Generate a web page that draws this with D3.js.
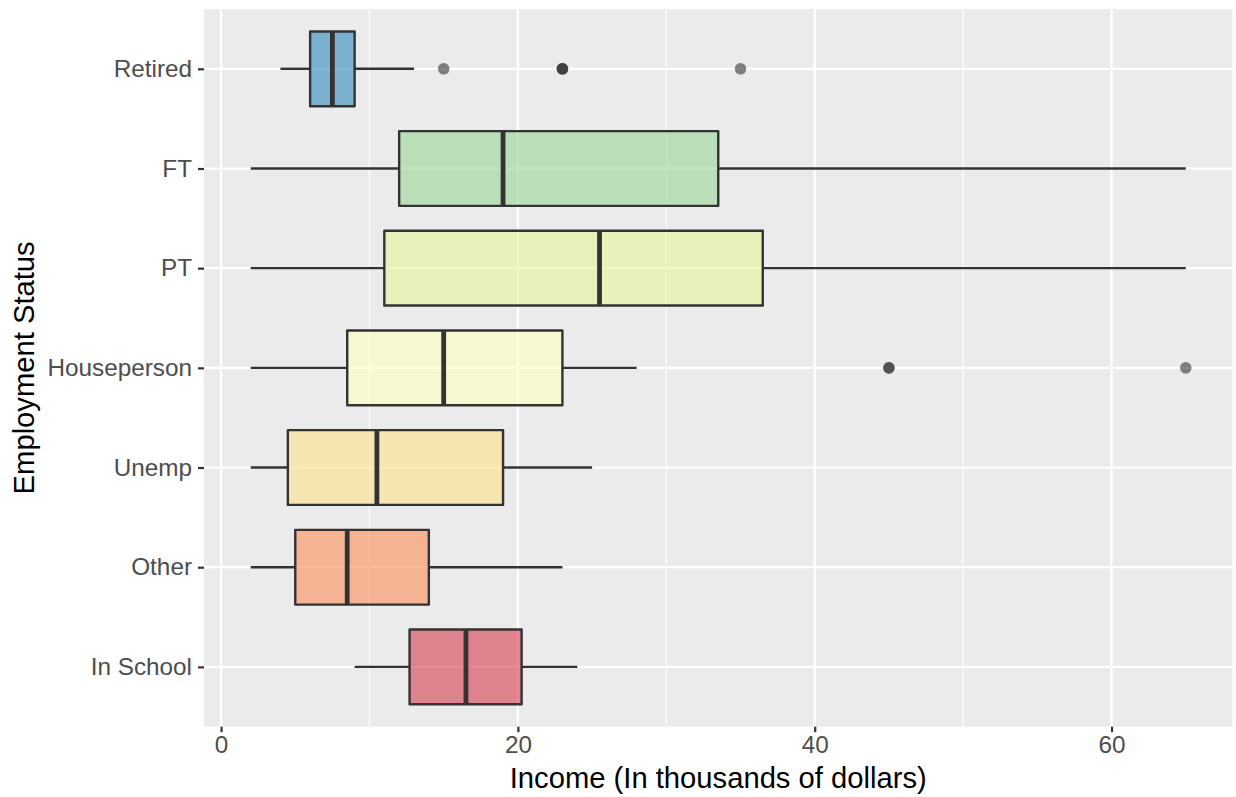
<!DOCTYPE html>
<html>
<head>
<meta charset="utf-8">
<script src="https://cdn.jsdelivr.net/npm/d3@7"></script>
<style>
  html, body { margin: 0; padding: 0; background: #ffffff; }
  svg { display: block; font-family: "Liberation Sans", Arial, Helvetica, sans-serif; }
</style>
</head>
<body>
<svg id="chart" width="1236" height="797"></svg>
<script>
// Employment groups, listed top to bottom
const categories = ["Retired", "FT", "PT", "Houseperson", "Unemp", "Other", "In School"];

// Five-number summaries (thousands of dollars)
const whiskerLow  = [4,   2,    2,    2,    2,    2,    9];
const quartile1   = [6,   12,   11,   8.5,  4.5,  5,    12.7];
const medians     = [7.5, 19,   25.5, 15,   10.5, 8.5,  16.5];
const quartile3   = [9,   33.5, 36.5, 23,   19,   14,   20.25];
const whiskerHigh = [13,  65,   65,   28,   25,   23,   24];

// Outlying incomes per group (repeated values overlap)
const outliers = [
  [15, 23, 23, 23, 35],
  [],
  [],
  [45, 45, 65],
  [],
  [],
  []
];

// Spectral fills
const fills = ["#3288BD", "#99D594", "#E6F598", "#FFFFBF", "#FEE08B", "#FC8D59", "#D53E4F"];

const xTicks = [0, 20, 40, 60];
const xMinor = [10, 30, 50];

const svg = d3.select("#chart");
const panel = { left: 204, right: 1232.5, top: 9, bottom: 726.7 };

const dataMin = d3.min(whiskerLow), dataMax = d3.max(whiskerHigh);
const pad = (dataMax - dataMin) * 0.05;
const x = d3.scaleLinear()
  .domain([dataMin - pad, dataMax + pad])
  .range([panel.left, panel.right]);

const y = d3.scalePoint()
  .domain(categories)
  .range([panel.top, panel.bottom])
  .padding(0.6);

const step = y.step();
const boxH = step * 0.75;

// Panel background
svg.append("rect")
  .attr("x", panel.left).attr("y", panel.top)
  .attr("width", panel.right - panel.left)
  .attr("height", panel.bottom - panel.top)
  .attr("fill", "#EBEBEB");

// Grid lines
const grid = svg.append("g");
grid.selectAll("line.minor").data(xMinor).join("line")
  .attr("x1", d => x(d)).attr("x2", d => x(d))
  .attr("y1", panel.top).attr("y2", panel.bottom)
  .attr("stroke", "#ffffff").attr("stroke-width", 1.1);
grid.selectAll("line.major").data(xTicks).join("line")
  .attr("x1", d => x(d)).attr("x2", d => x(d))
  .attr("y1", panel.top).attr("y2", panel.bottom)
  .attr("stroke", "#ffffff").attr("stroke-width", 2.2);
grid.selectAll("line.cat").data(categories).join("line")
  .attr("x1", panel.left).attr("x2", panel.right)
  .attr("y1", d => y(d)).attr("y2", d => y(d))
  .attr("stroke", "#ffffff").attr("stroke-width", 2.2);

// Boxes
const rows = categories.map((c, i) => ({
  cat: c, lo: whiskerLow[i], q1: quartile1[i], med: medians[i],
  q3: quartile3[i], hi: whiskerHigh[i], out: outliers[i], fill: fills[i]
}));

const outline = "#333333";
const lw = 2.4;
const boxes = svg.append("g").selectAll("g").data(rows).join("g");

boxes.append("line")
  .attr("x1", d => x(d.lo)).attr("x2", d => x(d.q1))
  .attr("y1", d => y(d.cat)).attr("y2", d => y(d.cat))
  .attr("stroke", outline).attr("stroke-width", lw);
boxes.append("line")
  .attr("x1", d => x(d.q3)).attr("x2", d => x(d.hi))
  .attr("y1", d => y(d.cat)).attr("y2", d => y(d.cat))
  .attr("stroke", outline).attr("stroke-width", lw);

boxes.append("rect")
  .attr("x", d => x(d.q1)).attr("y", d => y(d.cat) - boxH / 2)
  .attr("width", d => x(d.q3) - x(d.q1)).attr("height", boxH)
  .attr("fill", d => d.fill).attr("fill-opacity", 0.6)
  .attr("stroke", outline).attr("stroke-width", lw)
  .attr("stroke-linejoin", "round");

boxes.append("line")
  .attr("x1", d => x(d.med)).attr("x2", d => x(d.med))
  .attr("y1", d => y(d.cat) - boxH / 2).attr("y2", d => y(d.cat) + boxH / 2)
  .attr("stroke", outline).attr("stroke-width", lw * 2);

boxes.each(function(d) {
  d3.select(this).selectAll("circle").data(d.out).join("circle")
    .attr("cx", v => x(v)).attr("cy", y(d.cat)).attr("r", 5.8)
    .attr("fill", outline).attr("fill-opacity", 0.6);
});

// Axes
const tickColor = "#333333", labelColor = "#4D4D4D";
const tickFont = 24.3, titleFont = 29.2;

const xAxis = svg.append("g")
  .attr("transform", `translate(0,${panel.bottom})`)
  .call(d3.axisBottom(x).tickValues(xTicks).tickSize(5.5).tickPadding(4));
xAxis.select(".domain").remove();
xAxis.selectAll(".tick line").attr("stroke", tickColor).attr("stroke-width", 2.2);
xAxis.selectAll(".tick text")
  .attr("fill", labelColor).attr("font-size", tickFont)
  .attr("font-family", "Liberation Sans, Arial, sans-serif");

const yAxis = svg.append("g")
  .attr("transform", `translate(${panel.left},0)`)
  .call(d3.axisLeft(y).tickSize(6).tickPadding(6));
yAxis.select(".domain").remove();
yAxis.selectAll(".tick line").attr("stroke", tickColor).attr("stroke-width", 2.2);
yAxis.selectAll(".tick text")
  .attr("fill", labelColor).attr("font-size", tickFont)
  .attr("font-family", "Liberation Sans, Arial, sans-serif");

// Axis titles
svg.append("text")
  .attr("x", (panel.left + panel.right) / 2).attr("y", 788)
  .attr("text-anchor", "middle").attr("font-size", titleFont)
  .attr("fill", "#000000")
  .text("Income (In thousands of dollars)");

svg.append("text")
  .attr("transform", `translate(34,${(panel.top + panel.bottom) / 2}) rotate(-90)`)
  .attr("text-anchor", "middle").attr("font-size", titleFont)
  .attr("fill", "#000000")
  .text("Employment Status");
</script>
</body>
</html>
